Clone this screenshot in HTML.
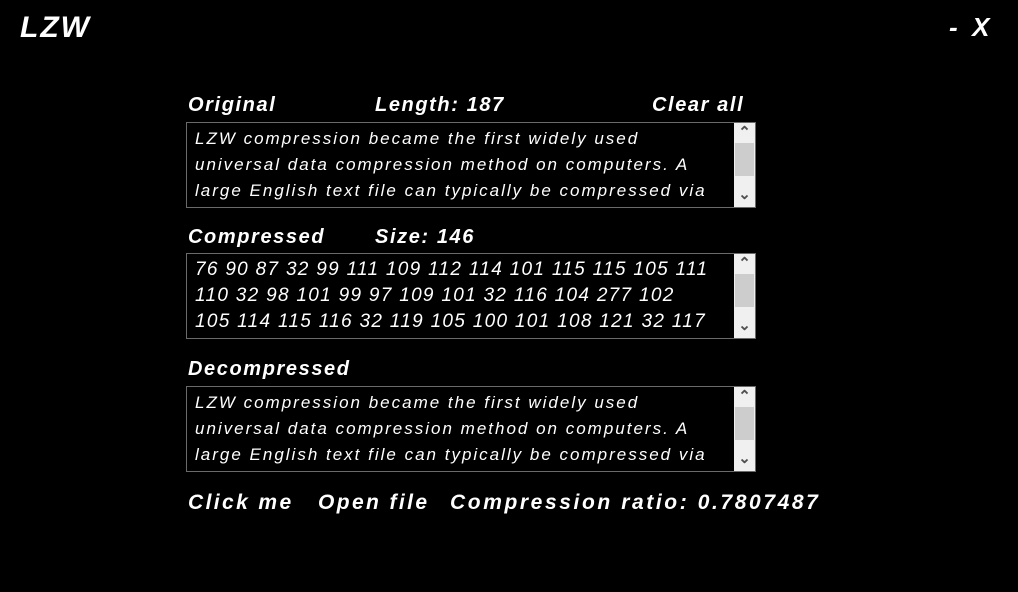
<!DOCTYPE html>
<html><head><meta charset="utf-8"><style>
body{margin:0;width:1018px;height:592px;background:#000;overflow:hidden;position:relative;font-family:"Liberation Sans",sans-serif;font-style:italic;color:#fff}
.a{position:absolute;white-space:nowrap}
.lbl{font-weight:bold;font-size:20px;letter-spacing:1.6px}
.box{position:absolute;left:186px;width:568px;height:84px;border:1px solid #6a6a6a;background:#000;overflow:hidden}
.box .t{position:absolute;left:8px;top:3px;font-size:17px;line-height:26px;letter-spacing:2px;white-space:nowrap}
.box .n{font-size:19px;letter-spacing:1.3px}
.sb{position:absolute;right:0;top:0;width:21px;height:84px;background:#f0f0f0}
.th{position:absolute;left:1px;top:20px;width:19px;height:33px;background:#cdcdcd}
.ar{position:absolute;left:0;width:21px;text-align:center;color:#505050;font-style:normal;font-size:15px;font-weight:bold}
</style></head><body>
<div class="a" style="left:20px;top:11px;font-size:30px;font-weight:bold;letter-spacing:2px">LZW</div>
<div class="a" style="left:949px;top:12px;font-size:26px;font-weight:bold">-&nbsp;&nbsp;X</div>

<div class="a lbl" style="left:188px;top:94px">Original</div>
<div class="a lbl" style="left:375px;top:94px">Length: 187</div>
<div class="a lbl" style="left:652px;top:94px">Clear all</div>
<div class="box" style="top:122px"><div class="t">LZW compression became the first widely used<br>universal data compression method on computers. A<br>large English text file can typically be compressed via</div><div class="sb"><div class="ar" style="top:0px">&#8963;</div><div class="th"></div><div class="ar" style="top:62px">&#8964;</div></div></div>

<div class="a lbl" style="left:188px;top:226px">Compressed</div>
<div class="a lbl" style="left:375px;top:226px">Size: 146</div>
<div class="box" style="top:253px"><div class="t n">76 90 87 32 99 111 109 112 114 101 115 115 105 111<br>110 32 98 101 99 97 109 101 32 116 104 277 102<br>105 114 115 116 32 119 105 100 101 108 121 32 117</div><div class="sb"><div class="ar" style="top:0px">&#8963;</div><div class="th"></div><div class="ar" style="top:62px">&#8964;</div></div></div>

<div class="a lbl" style="left:188px;top:358px">Decompressed</div>
<div class="box" style="top:386px"><div class="t">LZW compression became the first widely used<br>universal data compression method on computers. A<br>large English text file can typically be compressed via</div><div class="sb"><div class="ar" style="top:0px">&#8963;</div><div class="th"></div><div class="ar" style="top:62px">&#8964;</div></div></div>

<div class="a lbl" style="left:188px;top:491px;font-size:21px;letter-spacing:2.4px">Click me</div>
<div class="a lbl" style="left:318px;top:491px;font-size:21px;letter-spacing:2.4px">Open file</div>
<div class="a lbl" style="left:450px;top:491px;font-size:21px;letter-spacing:2.6px">Compression ratio: 0.7807487</div>
</body></html>
